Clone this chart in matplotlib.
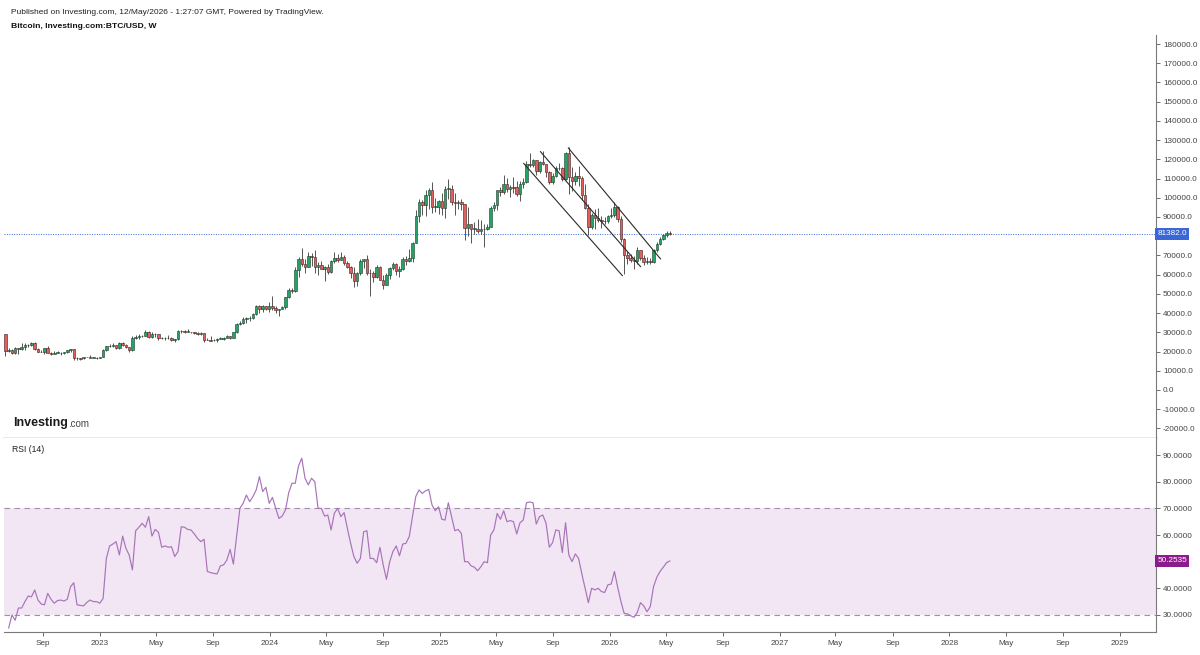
import matplotlib
matplotlib.use("Agg")
import matplotlib.pyplot as plt
import matplotlib.dates as mdates
import matplotlib.transforms as mtransforms
from matplotlib.ticker import FixedLocator, FuncFormatter
import numpy as np
import pandas as pd

plt.rcParams["font.family"] = ["Liberation Sans", "DejaVu Sans"]

# weekly BTC/USD candles, weeks start Sunday 2022-06-12, prices in thousand USD
first_week = "2022-06-12"
first_open = 28.9

close_2022 = [20.5, 21.0, 19.3, 21.6, 21.2, 22.6, 23.6, 23.2, 24.3, 21.1, 20.0, 19.9, 21.6, 19.4, 18.9,
              19.3, 19.4, 19.2, 19.6, 20.8, 21.2, 16.8, 16.6, 16.5, 17.1, 17.1, 16.8, 16.8, 16.6]
high_2022 = [28.9, 21.8, 21.5, 22.4, 21.9, 24.3, 24.6, 24.0, 25.0, 25.2, 21.8, 20.6, 21.8, 22.7, 19.9,
             20.3, 20.4, 19.6, 19.7, 21.0, 21.5, 21.5, 17.2, 16.8, 17.4, 17.4, 18.4, 17.1, 16.9]
low_2022 = [17.6, 19.6, 18.6, 18.8, 18.9, 20.8, 20.7, 22.4, 22.7, 20.9, 19.8, 19.5, 18.6, 19.3, 18.2,
            18.5, 19.1, 18.2, 18.9, 19.2, 20.0, 15.6, 15.8, 15.5, 16.0, 16.9, 16.6, 16.4, 16.3]

close_2023 = [17.2, 20.9, 22.7, 23.0, 23.3, 21.8, 24.6, 23.2, 22.4, 20.6, 26.9, 27.5, 28.0, 28.3, 30.3,
              27.8, 29.3, 28.9, 26.8, 26.9, 26.9, 27.1, 25.9, 26.3, 30.6, 30.6, 30.3, 30.3, 29.9, 29.4,
              29.0, 29.4, 26.1, 26.0, 25.8, 25.9, 26.6, 26.6, 27.0, 27.9, 26.9, 29.9, 34.5, 34.7, 37.1,
              37.4, 37.7, 39.5, 43.8, 42.3, 43.7, 42.1, 43.9]
high_2023 = [17.4, 21.2, 23.0, 23.8, 24.2, 23.4, 25.2, 25.1, 23.9, 22.6, 28.0, 28.8, 29.2, 28.5, 31.0,
             30.5, 30.0, 29.8, 29.0, 27.7, 27.4, 28.4, 27.4, 26.7, 31.0, 31.4, 31.4, 31.8, 30.4, 30.0,
             30.0, 30.2, 29.6, 26.8, 28.1, 26.4, 26.9, 27.5, 27.3, 28.6, 28.0, 30.0, 35.1, 35.9, 37.9,
             37.9, 38.4, 40.2, 44.4, 44.0, 44.3, 43.8, 45.9]
low_2023 = [16.5, 17.1, 20.4, 22.3, 22.5, 21.4, 21.4, 23.1, 22.0, 19.6, 20.3, 26.6, 26.6, 27.3, 28.2,
            27.1, 27.0, 27.7, 25.8, 26.5, 25.9, 26.5, 25.4, 24.8, 26.2, 29.6, 29.7, 29.9, 29.6, 28.9,
            28.6, 28.7, 25.2, 25.8, 25.3, 25.4, 24.9, 26.3, 26.0, 26.9, 26.6, 26.8, 29.6, 33.9, 34.5,
            34.8, 35.7, 36.8, 39.0, 40.2, 40.6, 41.5, 40.8]

close_2024 = [42.8, 41.6, 42.1, 43.0, 48.3, 52.1, 51.7, 62.4, 68.3, 65.3, 64.0, 69.7, 69.0, 64.0, 64.9,
              63.1, 64.0, 61.5, 67.0, 68.5, 67.5, 69.3, 66.0, 64.2, 60.8, 56.7, 60.8, 67.2, 67.9, 60.7,
              60.9, 58.9, 64.2, 57.3, 54.8, 60.0, 63.6, 65.6, 62.1, 62.9, 68.4, 67.0, 68.7, 76.5, 90.6,
              97.7, 96.4, 101.2, 104.0, 95.2, 95.3, 98.4]
high_2024 = [49.0, 43.6, 42.2, 43.8, 48.5, 52.8, 53.0, 64.0, 69.0, 73.8, 68.2, 71.7, 71.3, 72.7, 66.8,
             67.2, 64.7, 65.5, 67.4, 71.9, 70.6, 71.9, 70.1, 67.3, 64.5, 63.8, 61.4, 68.0, 68.4, 70.0,
             62.7, 61.8, 64.9, 64.5, 59.8, 60.6, 64.1, 66.5, 66.0, 64.5, 69.0, 69.5, 73.6, 77.2, 93.5,
             99.6, 98.7, 104.0, 105.1, 108.3, 99.9, 98.9]
low_2024 = [41.5, 40.3, 38.5, 41.9, 42.3, 47.7, 50.5, 50.9, 59.0, 64.5, 60.8, 64.0, 64.5, 60.7, 59.6,
            62.8, 56.5, 60.2, 60.7, 66.1, 66.7, 67.5, 65.1, 63.4, 58.4, 53.5, 54.3, 59.8, 63.5, 60.0,
            49.1, 56.1, 58.0, 57.2, 52.6, 54.6, 57.5, 62.4, 60.0, 58.9, 62.4, 65.1, 66.8, 66.8, 76.3,
            87.6, 90.8, 90.5, 94.2, 92.2, 92.5, 91.3]

close_2025 = [94.5, 104.6, 104.8, 97.7, 97.5, 97.6, 96.6, 84.4, 86.2, 84.0, 84.0, 82.6, 83.5, 83.7, 85.0,
              94.6, 96.3, 104.0, 103.2, 107.3, 104.6, 105.6, 105.5, 102.2, 107.3, 108.2, 117.5, 117.3,
              119.4, 114.0, 118.6, 117.4, 113.5, 108.3, 111.1, 115.3, 115.7, 109.6, 123.5, 111.0, 108.6,
              111.5, 110.5, 101.5, 94.5, 85.0, 90.9, 89.5, 88.5, 88.1, 87.8, 90.5]
high_2025 = [102.7, 105.9, 109.6, 106.5, 102.4, 98.9, 99.5, 96.6, 95.0, 86.3, 87.5, 88.8, 88.5, 86.1, 86.4,
             95.8, 97.9, 104.1, 105.8, 111.9, 110.5, 106.8, 110.6, 108.9, 108.5, 110.5, 118.9, 123.2,
             120.2, 119.9, 119.3, 124.5, 117.6, 113.7, 113.0, 116.7, 117.9, 115.9, 123.9, 126.2, 115.9,
             113.5, 116.4, 111.2, 107.4, 96.6, 92.0, 94.1, 94.6, 90.5, 90.0, 91.0]
low_2025 = [91.2, 89.3, 99.5, 96.2, 91.2, 94.1, 93.4, 78.2, 80.0, 76.6, 81.2, 81.5, 81.2, 74.5, 83.0,
            84.9, 92.9, 93.4, 100.7, 102.0, 103.1, 100.4, 102.7, 100.9, 98.2, 105.2, 107.5, 115.8,
            115.9, 112.0, 112.7, 116.8, 110.6, 107.3, 107.3, 110.6, 114.4, 108.7, 109.3, 102.0, 103.5,
            106.7, 106.3, 98.9, 94.0, 80.6, 84.0, 83.8, 87.6, 84.4, 86.6, 86.8]

close_2026 = [90.8, 95.2, 89.0, 78.6, 70.2, 68.8, 67.8, 67.0, 72.8, 68.5, 66.5, 67.2, 66.4, 73.0, 76.0,
              78.8, 80.4, 81.9, 81.382]
high_2026 = [94.7, 97.9, 95.5, 90.5, 79.3, 72.2, 70.9, 69.5, 74.5, 73.0, 70.0, 69.0, 68.5, 73.5, 77.0,
             79.5, 81.0, 82.6, 82.5]
low_2026 = [89.3, 90.2, 87.3, 77.0, 60.2, 65.7, 66.5, 62.8, 65.5, 67.5, 64.8, 65.5, 65.8, 66.0, 72.0,
            75.2, 77.8, 79.8, 80.8]

last_price = 81382.0

# RSI(14) readings, one per week, ending on the last candle
rsi = [25.1, 30.0, 28.0, 32.6, 32.6, 35.0, 37.1, 36.8, 39.4, 35.6,
       34.1, 33.8, 38.1, 35.9, 34.4, 35.4, 35.6, 35.2, 35.9, 40.6,
       42.1, 33.8, 33.6, 33.4, 34.7, 35.6, 35.0, 35.0, 34.4, 36.2,
       51.2, 55.9, 56.6, 57.5, 52.5, 59.6, 55.0, 52.5, 46.9, 61.6,
       62.9, 64.4, 62.9, 66.9, 59.6, 62.1, 61.0, 55.4, 55.9, 55.4,
       55.6, 51.9, 53.8, 63.1, 62.9, 62.1, 61.9, 60.4, 58.7, 57.5,
       58.4, 46.3, 45.9, 45.6, 45.4, 48.4, 48.8, 50.6, 54.6, 49.1,
       59.4, 70.0, 71.9, 75.0, 72.5, 74.4, 76.9, 81.9, 76.3, 77.9,
       71.9, 74.1, 70.0, 66.2, 67.1, 69.4, 75.9, 79.4, 79.4, 85.9,
       88.8, 81.3, 78.8, 81.3, 80.0, 70.0, 70.0, 67.1, 67.5, 61.9,
       68.1, 70.0, 66.9, 68.4, 62.5, 56.9, 51.9, 49.4, 51.2, 61.2,
       61.6, 51.2, 51.2, 49.6, 55.4, 48.8, 43.4, 50.0, 53.8, 55.9,
       52.2, 56.6,
       56.9, 59.4, 66.9, 74.4, 76.9, 75.6, 76.6, 77.1, 71.2, 69.1,
       70.6, 65.9, 65.6, 72.1, 66.9, 61.6, 62.1, 60.6, 50.0, 50.0,
       48.4, 47.9, 46.6, 48.1, 50.0, 49.6, 60.0, 61.9, 68.1, 65.9,
       69.1, 65.0, 65.4, 65.0, 60.4, 64.6, 65.6, 72.1, 72.4, 72.1,
       64.1, 66.9, 67.5, 64.4, 55.4, 57.1, 61.9, 61.6, 53.4, 64.6,
       52.5, 50.0, 52.9, 51.2, 45.4, 40.0, 34.6, 40.0, 39.4, 40.0,
       38.8, 38.4, 41.3, 41.6, 46.3, 40.4, 35.0, 30.6, 30.4, 29.7,
       29.1, 30.9, 34.6, 33.4, 31.2, 33.1, 40.6, 44.1, 46.3, 47.9,
       49.6, 50.2535]
rsi_last = 50.2535

# descending channel drawn on the chart: (start date, start price, end date, end price)
channel = [
    ("2025-06-30", 117900, "2026-01-28", 59500),
    ("2025-08-05", 124000, "2026-03-08", 64200),
    ("2025-10-04", 125900, "2026-04-20", 68200),
]

# axis labels (80000 and 50 sit under the value tags and are not shown)
price_ticks = [t for t in range(-20000, 180001, 10000) if t != 80000]
rsi_ticks = [30, 40, 60, 70, 80, 90]

GREEN = "#23a466"
RED = "#e35f5b"
BLUE = "#3b66d6"
PURPLE = "#a873b9"

closes = np.array(close_2022 + close_2023 + close_2024 + close_2025 + close_2026) * 1000
highs = np.array(high_2022 + high_2023 + high_2024 + high_2025 + high_2026) * 1000
lows = np.array(low_2022 + low_2023 + low_2024 + low_2025 + low_2026) * 1000
opens = np.r_[first_open * 1000, closes[:-1]]
highs = np.maximum(highs, np.maximum(opens, closes))
lows = np.minimum(lows, np.minimum(opens, closes))
dates = pd.date_range(first_week, periods=len(closes), freq="7D")
x = mdates.date2num(dates.to_pydatetime())

W, H = 1200, 655
fig = plt.figure(figsize=(W / 100, H / 100), dpi=100)


def px_box(x0, y0, x1, y1):
    return [x0 / W, 1 - y1 / H, (x1 - x0) / W, (y1 - y0) / H]


ax = fig.add_axes(px_box(4, 35, 1156, 438))
ax_rsi = fig.add_axes(px_box(4, 438, 1156, 632), sharex=ax)

# price panel
# -----------
up = closes >= opens
body = np.maximum(np.abs(closes - opens), 300)
ax.vlines(x, lows, highs, color="#4a4a4a", lw=0.65, zorder=2)
ax.bar(x[up], body[up], bottom=opens[up], width=5.4, color=GREEN,
       edgecolor="#1d3a2a", linewidth=0.4, zorder=3)
ax.bar(x[~up], -body[~up], bottom=opens[~up], width=5.4, color=RED,
       edgecolor="#3b1f1f", linewidth=0.4, zorder=3)

for d0, p0, d1, p1 in channel:
    ax.plot(mdates.datestr2num([d0, d1]), [p0, p1], color="#2a2a2a", lw=0.8, zorder=4)

ax.axhline(last_price, color=BLUE, lw=0.7, ls=(0, (1, 1.5)), zorder=1)

ax.set_xlim(mdates.datestr2num("2022-06-09"), mdates.datestr2num("2029-03-20"))
ax.set_ylim(-25000, 184700)
ax.yaxis.tick_right()
ax.yaxis.set_major_locator(FixedLocator(price_ticks))
ax.yaxis.set_major_formatter(FuncFormatter(lambda v, _: f"{v:.1f}"))
ax.tick_params(axis="y", direction="out", length=3, width=0.6, pad=2,
               labelsize=5.9, colors="#555555", labelcolor="#444444")
ax.tick_params(axis="x", bottom=False, labelbottom=False)
for side in ("top", "left"):
    ax.spines[side].set_visible(False)
ax.spines["right"].set_color("#7a7a7a")
ax.spines["right"].set_linewidth(0.8)
ax.spines["bottom"].set_color("#8a8a8a")
ax.spines["bottom"].set_linewidth(1.0)

tr = mtransforms.blended_transform_factory(ax.transAxes, ax.transData)
ax.text(1.001, last_price, f"{last_price:.1f}", transform=tr, ha="left", va="center",
        fontsize=5.9, color="white", clip_on=False, zorder=6,
        bbox=dict(boxstyle="square,pad=0.3", fc=BLUE, ec="none"))

# RSI panel
# ---------
ax_rsi.axhspan(30, 70, color="#f2e5f4", lw=0, zorder=0)
for level in (30, 70):
    ax_rsi.axhline(level, color="#a08fa8", lw=0.8, ls=(0, (5, 4)), zorder=1)
ax_rsi.plot(x[-len(rsi):], rsi, color=PURPLE, lw=0.85, zorder=3)

ax_rsi.set_ylim(23.6, 96.4)
ax_rsi.yaxis.tick_right()
ax_rsi.yaxis.set_major_locator(FixedLocator(rsi_ticks))
ax_rsi.yaxis.set_major_formatter(FuncFormatter(lambda v, _: f"{v:.4f}"))
ax_rsi.tick_params(axis="y", direction="out", length=3, width=0.6, pad=2,
                   labelsize=5.9, colors="#555555", labelcolor="#444444")
ax_rsi.xaxis.set_major_locator(mdates.MonthLocator(bymonth=[1, 5, 9]))
ax_rsi.xaxis.set_major_formatter(FuncFormatter(
    lambda v, _: mdates.num2date(v).strftime("%Y" if mdates.num2date(v).month == 1 else "%b")))
ax_rsi.tick_params(axis="x", direction="out", length=3, width=0.6, pad=3,
                   labelsize=5.9, colors="#555555", labelcolor="#444444")
for side in ("top", "left"):
    ax_rsi.spines[side].set_visible(False)
for side in ("right", "bottom"):
    ax_rsi.spines[side].set_color("#7a7a7a")
    ax_rsi.spines[side].set_linewidth(0.8)

tr2 = mtransforms.blended_transform_factory(ax_rsi.transAxes, ax_rsi.transData)
ax_rsi.text(1.001, rsi_last, f"{rsi_last:.4f}", transform=tr2, ha="left", va="center",
            fontsize=5.9, color="white", clip_on=False, zorder=6,
            bbox=dict(boxstyle="square,pad=0.3", fc="#8c1c8c", ec="none"))

# header, logo, panel label
# -------------------------
fig.text(11 / W, 1 - 14 / H, "Published on Investing.com, 12/May/2026 - 1:27:07 GMT, Powered by TradingView.",
         fontsize=6.05, color="#222222", va="baseline")
fig.text(11 / W, 1 - 27.5 / H, "Bitcoin, Investing.com:BTC/USD, W",
         fontsize=6.1, fontweight="bold", color="#111111", va="baseline")
logo = fig.text(13 / W, 1 - 426 / H, "Investing", fontsize=9, fontweight="bold",
                color="#1b1b1b", va="baseline")
ax.annotate(".com", xy=(1, 0), xycoords=logo, xytext=(0.3, 0), textcoords="offset points",
            fontsize=7, color="#444444", va="bottom", ha="left", annotation_clip=False)
fig.text(12 / W, 1 - 452 / H, "RSI (14)", fontsize=6.2, color="#222222", va="baseline")

fig.savefig("out.png", dpi=100)
